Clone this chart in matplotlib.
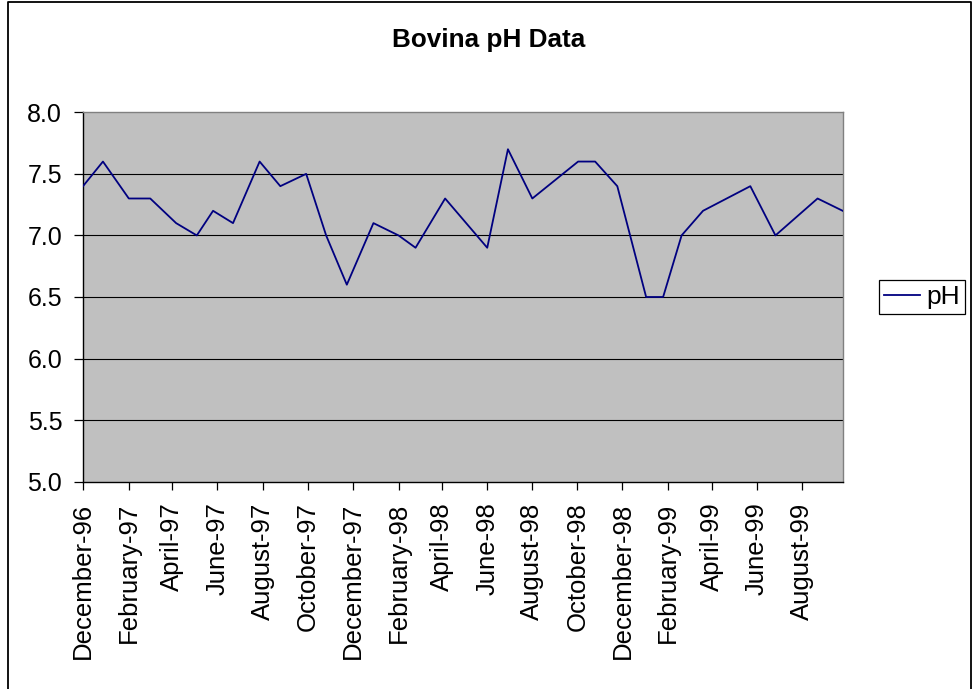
import matplotlib
matplotlib.use("Agg")
import matplotlib.pyplot as plt
import matplotlib.dates as mdates
from matplotlib.lines import Line2D
import datetime as dt

# Sampling dates and measured pH values
sample_dates = [
    "1996-12-01", "1996-12-28", "1997-02-01", "1997-03-02", "1997-04-06",
    "1997-05-04", "1997-05-26", "1997-06-22", "1997-07-28", "1997-08-25",
    "1997-09-29", "1997-10-26", "1997-11-23", "1997-12-29", "1998-02-01",
    "1998-02-24", "1998-04-05", "1998-06-01", "1998-06-29", "1998-08-01",
    "1998-10-02", "1998-10-25", "1998-11-24", "1999-01-02", "1999-01-25",
    "1999-02-19", "1999-03-20", "1999-05-23", "1999-06-26", "1999-08-22",
    "1999-09-25",
]
ph_values = [
    7.4, 7.6, 7.3, 7.3, 7.1,
    7.0, 7.2, 7.1, 7.6, 7.4,
    7.5, 7.0, 6.6, 7.1, 7.0,
    6.9, 7.3, 6.9, 7.7, 7.3,
    7.6, 7.6, 7.4, 6.5, 6.5,
    7.0, 7.2, 7.4, 7.0, 7.3,
    7.2,
]
y_ticks = [5.0, 5.5, 6.0, 6.5, 7.0, 7.5, 8.0]

dates = [dt.datetime.strptime(d, "%Y-%m-%d") for d in sample_dates]

W, H = 975, 689
fig = plt.figure(figsize=(W / 100, H / 100), dpi=100)
fig.patch.set_facecolor("white")
plt.rcParams["font.family"] = ["Liberation Sans", "DejaVu Sans"]

# chart border
border = Line2D([7.5 / W, 7.5 / W, 970.5 / W, 970.5 / W],
                [-0.01, 1 - 2 / H, 1 - 2 / H, -0.01],
                transform=fig.transFigure, color="black", lw=1.3)
fig.add_artist(border)

left, right, top, bottom = 83 / W, 842.7 / W, 112.3 / H, 481.7 / H
ax = fig.add_axes([left, 1 - bottom, right - left, bottom - top])
ax.set_facecolor("#C0C0C0")

ax.plot(dates, ph_values, color="#000080", lw=1.3, label="pH", zorder=3)

ax.set_ylim(5.0, 8.0)
ax.set_yticks(y_ticks)
ax.yaxis.set_major_formatter(matplotlib.ticker.FormatStrFormatter("%.1f"))
for yv in y_ticks[1:-1]:
    ax.axhline(yv, color="black", lw=0.8, zorder=1)

ax.set_xlim(dates[0], dates[-1])
ax.xaxis.set_major_locator(mdates.MonthLocator(bymonth=[2, 4, 6, 8, 10, 12]))
ax.xaxis.set_major_formatter(mdates.DateFormatter("%B-%y"))

for s in ["left", "bottom"]:
    ax.spines[s].set_color("black")
    ax.spines[s].set_linewidth(1.0)
for s in ["top", "right"]:
    ax.spines[s].set_color("#808080")
    ax.spines[s].set_linewidth(1.0)

ax.tick_params(axis="y", direction="out", length=6.5, width=0.9,
               labelsize=18, pad=8.5, colors="black")
ax.tick_params(axis="x", direction="out", length=6, width=0.9,
               labelsize=18.5, pad=9, labelrotation=90, colors="black")

fig.text(489 / W, 1 - 47.3 / H, "Bovina pH Data", ha="center", va="baseline",
         fontsize=18.8, fontweight="bold")

leg = ax.legend(loc="center", bbox_to_anchor=(922 / W, 1 - 297.2 / H),
                bbox_transform=fig.transFigure, fontsize=19,
                handlelength=1.35, handletextpad=0.25, borderpad=0.2,
                borderaxespad=0, frameon=True, fancybox=False, shadow=False)
leg.get_frame().set_edgecolor("black")
leg.get_frame().set_linewidth(0.9)
leg.get_frame().set_facecolor("white")
leg.get_frame().set_alpha(1)

fig.savefig("out.png", dpi=100, facecolor="white")
